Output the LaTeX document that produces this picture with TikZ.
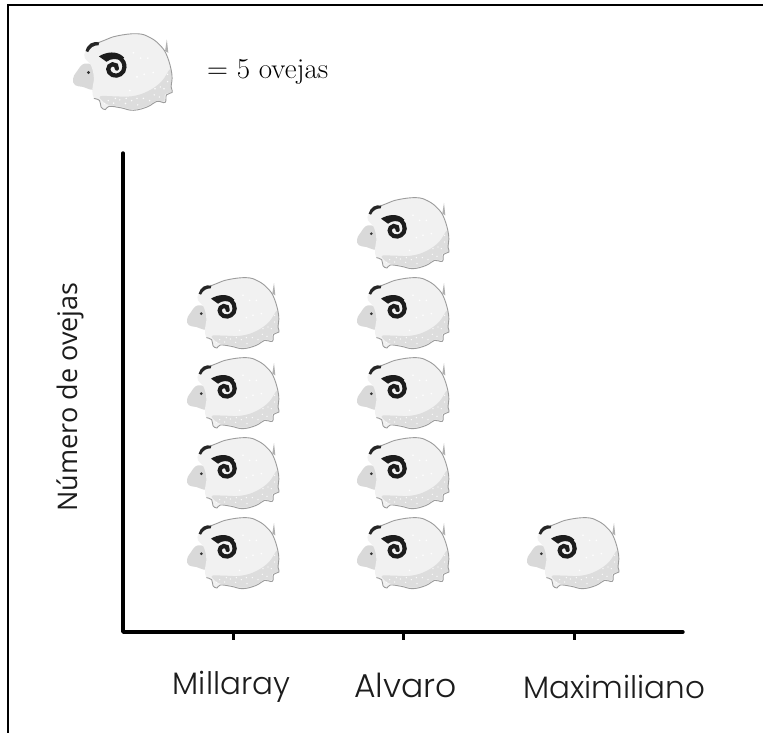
\documentclass[tikz,border=0pt]{standalone}
\usepackage{fontspec}
\newfontfamily\catfont{Poppins Light}
\newfontfamily\axisfont{Open Sans}
\definecolor{wool}{HTML}{F1F1F1}
\definecolor{woolshade}{HTML}{DDDDDD}
\definecolor{woolline}{HTML}{9C9C9C}
\definecolor{headgray}{HTML}{D9D9D9}
\definecolor{ink}{HTML}{1C1C1C}
\newcommand{\sheepart}{%
  \begin{scope}[shift={(-262,-50)}]
    % tail
    \fill[woolline!80] (518,100) -- (523,68) -- (527,105) -- cycle;
    % head
    \fill[headgray] plot[smooth cycle,tension=.7] coordinates
      {(262,178) (272,158) (295,135) (330,150) (335,195) (318,208) (290,200) (268,195)};
    % body fill
    \fill[wool] plot[smooth cycle,tension=.7] coordinates
      {(297,100) (318,78) (350,70) (385,58) (440,52) (475,62) (505,85) (524,115)
       (537,165) (535,200) (538,215) (522,222) (518,243) (495,240) (470,255)
       (430,265) (395,258) (362,254) (352,263) (340,256) (336,238) (320,232) (316,205)
       (320,175) (312,140) (295,120)};
    % shaded underside
    \fill[woolshade] plot[smooth cycle,tension=.7] coordinates
      {(534,150) (535,200) (534,215) (518,220) (515,240) (495,237) (470,252) (430,262)
       (395,255) (362,250) (345,240) (338,226) (375,226) (425,226) (470,212) (508,185)};
    % outline
    \draw[woolline,line width=.9pt,line join=round] plot[smooth,tension=.7] coordinates
      {(312,86) (350,70) (385,58) (440,52) (475,62) (505,85) (524,115)
       (537,165) (535,200) (538,215) (522,222) (518,243) (495,240) (470,255)
       (430,265) (395,258) (362,254) (352,263) (340,256) (336,238) (320,232)};
    % speckles on the upper wool
    \foreach \dotx/\doty in {430/105,470/120,450/120,485/160,460/165,440/172,420/210}
      \fill[white] (\dotx,\doty) circle[radius=2.6];
    % speckles on the shaded wool
    \foreach \dotx/\doty in {360/238,375/245,392/236,408/246,425/238,442/250,458/232,475/238,
                             488/222,502/228,515/205,525/185,505/200,525/165,490/205,
                             440/232,380/232,410/232,350/246}
      \fill[white!90!woolshade] (\dotx,\doty) circle[radius=2.2];
    % top tuft
    \fill[black!85] (297,100) .. controls (302,80) and (318,72) .. (335,76) -- (333,84)
      .. controls (320,84) and (310,90) .. (304,103) -- cycle;
    % eye
    \fill[black!80] (305,160) circle[radius=4.5];
    % horn tip
    \fill[ink] (334,115) .. controls (355,102) and (385,98) .. (404,118) -- (396,128)
      .. controls (385,120) and (368,120) .. (355,130) -- cycle;
    % horn spiral
    \draw[ink,line width=4.2pt,line cap=round] (365,113) .. controls (390,110) and (405,125) .. (405,145)
      .. controls (405,162) and (387,173) .. (372,167) .. controls (356,160) and (356,140) .. (372,137)
      .. controls (380,136) and (386,142) .. (384,149);
  \end{scope}}
\tikzset{
  axisline/.style={line width=3.4pt,black,line cap=round},
  tickline/.style={line width=3pt,black},
  framerule/.style={line width=2.2pt,black},
  catlabel/.style={font=\catfont\fontsize{31}{34}\selectfont,text=ink,inner sep=0pt},
  ylabelstyle/.style={font=\axisfont\fontsize{27}{32}\selectfont,text=ink,inner sep=0pt,rotate=90},
  legendlabel/.style={font=\fontsize{29}{32}\selectfont,text=black,inner sep=0pt,anchor=west},
  sheep/.pic={\begin{scope}[x=0.3333pt,y=-0.3333pt]\sheepart\end{scope}},
  bigsheep/.pic={\begin{scope}[x=0.3596pt,y=-0.3596pt]\sheepart\end{scope}},
}
\begin{document}
\begin{tikzpicture}[x=1pt,y=-1pt]
  \useasboundingbox (0,0) rectangle (763,733);
  \fill[white] (0,0) rectangle (763,733);
  % frame
  \coordinate (frameBL) at (8,733);
  \coordinate (frameTL) at (8,5);
  \coordinate (frameTR) at (763,5);
  \draw[framerule] (frameBL) -- (frameTL) -- (frameTR);
  % legend
  \pic (legendSheep) at (73,33) {bigsheep};
  \node[legendlabel] (legendText) at (207,72) {= 5 ovejas};
  % axes
  \coordinate (axisTop) at (123,153);
  \coordinate (origin) at (123,632);
  \coordinate (axisEnd) at (683,632);
  \draw[axisline,line join=round] (axisTop) -- (origin) -- (axisEnd);
  % ticks
  \coordinate (tickA) at (233,632);
  \coordinate (tickB) at (403,632);
  \coordinate (tickC) at (574,632);
  \coordinate (tickAe) at (233,640);
  \coordinate (tickBe) at (403,640);
  \coordinate (tickCe) at (574,640);
  \draw[tickline] (tickA) -- (tickAe);
  \draw[tickline] (tickB) -- (tickBe);
  \draw[tickline] (tickC) -- (tickCe);
  % labels
  \node[catlabel] (millaray) at (231.5,687) {Millaray};
  \node[catlabel,font=\catfont\fontsize{33}{36}\selectfont] (alvaro) at (405.5,685.5) {Alvaro};
  \node[catlabel] (maximiliano) at (614.5,687) {Maximiliano};
  \node[ylabelstyle] (ylabel) at (70,397) {Número de ovejas};
  % pictograph
  \foreach \rowy [count=\i] in {517,437,357,277}
    \pic (m\i) at (187,\rowy) {sheep};
  \foreach \rowy [count=\i] in {517,437,357,277,197}
    \pic (a\i) at (357,\rowy) {sheep};
  \pic (x1) at (527,517) {sheep};
\end{tikzpicture}
\end{document}
